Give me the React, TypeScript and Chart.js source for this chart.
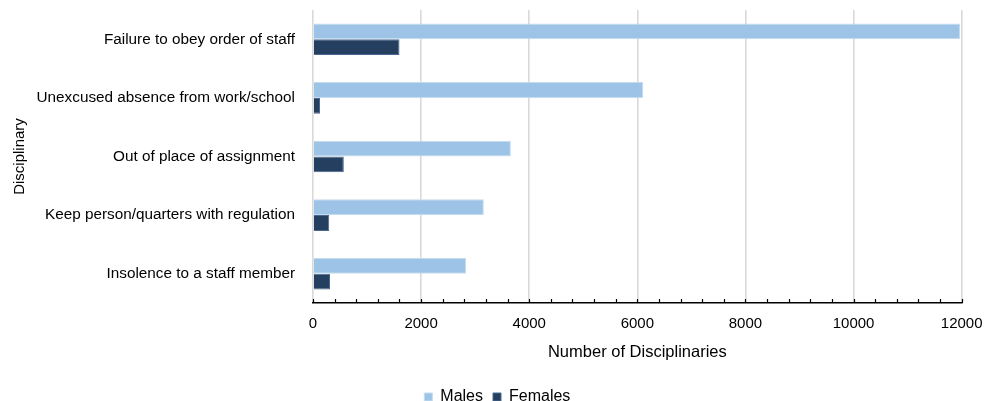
import React, { useEffect, useRef } from 'react';
import { Chart, registerables } from 'chart.js';

Chart.register(...registerables);

// Disciplinary categories and counts by sex
const categories = [
  'Failure to obey order of staff',
  'Unexcused absence from work/school',
  'Out of place of assignment',
  'Keep person/quarters with regulation',
  'Insolence to a staff member',
];
const males = [11970, 6110, 3660, 3160, 2830];
const females = [1600, 130, 570, 300, 315];

const xMin = 0;
const xMax = 12000;
const xMajorStep = 2000;
const xMinorStep = 400;

const FONT = "'Liberation Sans', Arial, sans-serif";

// Short tick marks along the x axis, drawn inward from the axis line
const minorTicks = {
  id: 'minorTicks',
  afterDatasetsDraw(chart: any) {
    const scale = chart.scales.x;
    const { ctx, chartArea } = chart;
    ctx.save();
    ctx.strokeStyle = '#000';
    ctx.lineWidth = 1.2;
    for (let v = xMin; v <= xMax; v += xMinorStep) {
      const px = Math.round(scale.getPixelForValue(v)) + 0.5;
      ctx.beginPath();
      ctx.moveTo(px, chartArea.bottom);
      ctx.lineTo(px, chartArea.bottom - 4);
      ctx.stroke();
    }
    ctx.restore();
  },
};

function clearScalePadding(scale: any) {
  scale.paddingTop = 0;
  scale.paddingBottom = 0;
  scale.paddingLeft = 0;
  scale.paddingRight = 0;
}

export default function App() {
  const canvasRef = useRef<HTMLCanvasElement | null>(null);

  useEffect(() => {
    document.body.style.margin = '0';
    const canvas = canvasRef.current;
    if (!canvas) return;
    const chart = new Chart(canvas, {
      type: 'bar',
      data: {
        labels: categories,
        datasets: [
          {
            label: 'Males',
            data: males,
            backgroundColor: '#9DC3E6',
            borderColor: '#C4DCF1',
            borderWidth: 1,
            categoryPercentage: 0.54,
            barPercentage: 1.0,
          },
          {
            label: 'Females',
            data: females,
            backgroundColor: '#243F60',
            borderColor: '#4A6890',
            borderWidth: 1,
            categoryPercentage: 0.54,
            barPercentage: 1.0,
          },
        ],
      },
      options: {
        indexAxis: 'y',
        animation: false,
        responsive: false,
        maintainAspectRatio: false,
        layout: { padding: { top: 10, right: 23.3, left: 33, bottom: -14 } },
        plugins: {
          tooltip: { enabled: false },
          legend: {
            position: 'bottom',
            labels: {
              boxWidth: 8,
              boxHeight: 8,
              padding: 10,
              color: '#000',
              font: { family: FONT, size: 16 },
            },
          },
        },
        scales: {
          x: {
            type: 'linear',
            min: xMin,
            max: xMax,
            ticks: {
              stepSize: xMajorStep,
              color: '#000',
              padding: 12,
              font: { family: FONT, size: 15 },
              maxRotation: 0,
              callback: (v: any) => String(v),
            },
            grid: {
              color: '#D9D9D9',
              lineWidth: 1.6,
              drawTicks: false,
            },
            border: { display: true, color: '#000', width: 1.5 },
            title: {
              display: true,
              text: 'Number of Disciplinaries',
              color: '#000',
              font: { family: FONT, size: 16.5 },
              padding: { top: 4, bottom: 16.5 },
            },
            afterFit(scale: any) {
              clearScalePadding(scale);
              scale.height = 76;
            },
          },
          y: {
            type: 'category',
            ticks: {
              color: '#000',
              padding: 18,
              font: { family: FONT, size: 15.3 },
            },
            grid: { display: false, drawTicks: false },
            border: { display: false },
            title: {
              display: true,
              text: 'Disciplinary',
              color: '#000',
              font: { family: FONT, size: 15 },
              padding: { top: -22, bottom: 0 },
            },
            afterFit(scale: any) {
              clearScalePadding(scale);
              scale.width = 280;
            },
          },
        },
      },
      plugins: [minorTicks],
    });
    return () => chart.destroy();
  }, []);

  return (
    <div style={{ width: 985, height: 401, background: '#fff' }}>
      <canvas ref={canvasRef} width={985} height={401} style={{ display: 'block' }} />
    </div>
  );
}
